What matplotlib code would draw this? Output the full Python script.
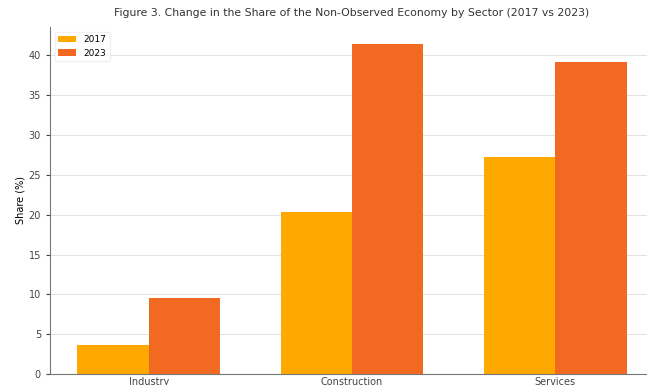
import matplotlib.pyplot as plt
import numpy as np

setores = ["Industry", "Construction", "Services"]
anos = ["2017", "2023"]
share_2017 = [3.6, 20.4, 27.3]
share_2023 = [9.6, 41.5, 39.2]
cores = ["#FFA800", "#F26A21"]

fig = plt.figure(figsize=(6.47, 3.85), dpi=100)
# the reference is cropped on the right and bottom, so the axes run past the figure edge
ax = fig.add_axes([50 / 647, 1 - 374 / 385, 604 / 647, 347 / 385])

x = np.arange(len(setores))
largura = 0.35
ax.bar(x - largura / 2, share_2017, largura, color=cores[0], label=anos[0])
ax.bar(x + largura / 2, share_2023, largura, color=cores[1], label=anos[1])

ax.set_xticks(x)
ax.set_xticklabels(setores, fontsize=7, color="#444444")
ax.set_yticks(range(0, 41, 5))
ax.tick_params(axis="y", labelsize=7, colors="#444444", length=3)
ax.tick_params(axis="x", length=0, pad=2)
ax.set_ylabel("Share (%)", fontsize=7, labelpad=2)
ax.set_title("Figure 3. Change in the Share of the Non-Observed Economy by Sector (2017 vs 2023)",
             fontsize=7.8, color="#333333", pad=8)
ax.grid(axis="y", color="#dddddd", linewidth=0.6)
ax.set_axisbelow(True)
for s in ["top", "right"]:
    ax.spines[s].set_visible(False)
ax.spines["left"].set_color("#777777")
ax.spines["bottom"].set_color("#777777")
ax.legend(loc="upper left", fontsize=6.5, frameon=True, framealpha=0.8, edgecolor="#eeeeee")

fig.savefig("out.png", dpi=100)
